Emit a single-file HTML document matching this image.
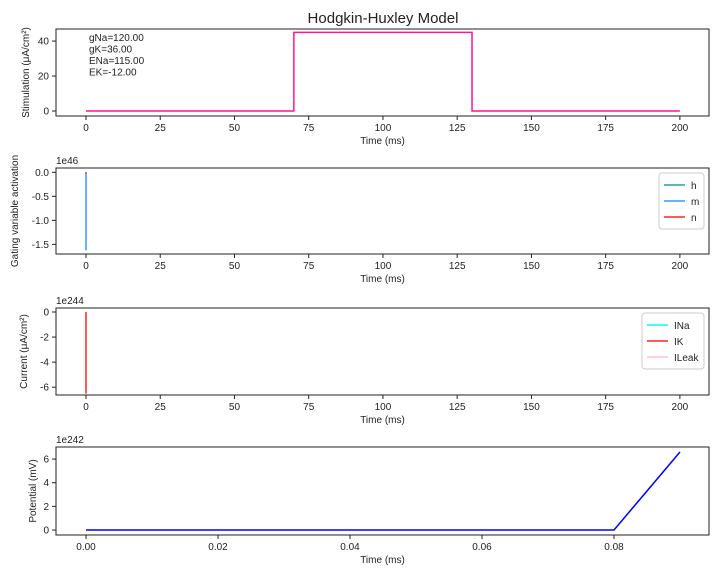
<!DOCTYPE html>
<html><head><meta charset="utf-8"><style>
body{margin:0;background:#fff;}
svg text{font-family:"Liberation Sans","DejaVu Sans",sans-serif;fill:#222;}
</style></head><body>
<svg id="fig" width="720" height="576" viewBox="0 0 720 576" xmlns="http://www.w3.org/2000/svg">
<text x="383" y="23" font-size="15" text-anchor="middle">Hodgkin-Huxley Model</text>
</svg>
<script>
const stimTimes=[0,70,70,130,130,200];
const stimValues=[0,0,45,45,0,0];
const gateT=[0,0];
const gateH=[0,-0.01];
const gateM=[0,-1.62];
const gateN=[0,-0.03];
const curT=[0,0];
const curNa=[0,-0.02];
const curK=[0,-6.5];
const curLeak=[0,-0.01];
const vT=[0,0.08,0.09];
const vV=[0,0,6.6];
const xTicksMain=[0,25,50,75,100,125,150,175,200];
const xTicksV=[0,0.02,0.04,0.06,0.08];
const yTicks1=[0,20,40];
const yTicks2=[0,-0.5,-1.0,-1.5];
const yTicks3=[0,-2,-4,-6];
const yTicks4=[0,2,4,6];

const svg=document.getElementById('fig');
const NS='http://www.w3.org/2000/svg';
function mk(tag,attrs,parent){const e=document.createElementNS(NS,tag);for(const k in attrs)e.setAttribute(k,attrs[k]);(parent||svg).appendChild(e);return e;}
function panel(name,top,bot,xmin,xmax,ymin,ymax,xt,yt,xfmt,yfmt,xlabel,ylabel,expo,ylx){
  const L=56,R=709;
  const g=mk('g',{});
  
  
  const sx=v=>L+(v-xmin)/(xmax-xmin)*(R-L);
  const sy=v=>bot-(v-ymin)/(ymax-ymin)*(bot-top);
  xt.forEach(v=>{const x=sx(v);mk('line',{x1:x,x2:x,y1:bot,y2:bot+4,stroke:'#222'},g);
    const t=mk('text',{x:x,y:bot+15,'font-size':10,'text-anchor':'middle'},g);t.textContent=xfmt(v);
    });
  yt.forEach(v=>{const y=sy(v);mk('line',{x1:L-4,x2:L,y1:y,y2:y,stroke:'#222'},g);
    const t=mk('text',{x:L-7,y:y+3.5,'font-size':10,'text-anchor':'end'},g);t.textContent=yfmt(v);
    });
  const xl=mk('text',{x:(L+R)/2,y:bot+28,'font-size':10,'text-anchor':'middle'},g);xl.textContent=xlabel;
  
  const cy=(top+bot)/2;
  const yl=mk('text',{x:0,y:0,'font-size':10,'text-anchor':'middle',transform:`translate(${ylx},${cy}) rotate(-90)`},g);yl.textContent=ylabel;
  
  if(expo){const e=mk('text',{x:L,y:top-4,'font-size':10},g);e.textContent=expo;
    }
  return {g,sx,sy,frame:()=>{const f=mk('rect',{x:L,y:top,width:R-L,height:bot-top,fill:'none',stroke:'#222','stroke-width':1},g);
    }};
}
function line(p,xs,ys,color,name,w){
  const d=xs.map((x,i)=>(i?'L':'M')+p.sx(x).toFixed(2)+','+p.sy(ys[i]).toFixed(2)).join('');
  const e=mk('path',{d:d,fill:'none',stroke:color,'stroke-width':w||1.5},p.g);
  
}
function legend(p,x,y,w,items){
  const box=mk('rect',{x:x,y:y,width:w,height:items.length*16+8,rx:3,fill:'#fff',stroke:'#ccc'},p.g);
  
  items.forEach((it,i)=>{const yy=y+12+i*16;
    mk('line',{x1:x+5,x2:x+26,y1:yy,y2:yy,stroke:it[1],'stroke-width':1.5},p.g);
    const t=mk('text',{x:x+32,y:yy+4,'font-size':10},p.g);t.textContent=it[0];
    });
}
const f0=v=>String(v), f1=v=>v.toFixed(1), f2=v=>v.toFixed(2);
const p1=panel('stimulation-panel',29,116,-10.1,209.8,-2.86,46.9,xTicksMain,yTicks1,f0,f0,'Time (ms)','Stimulation (μA/cm²)',null,29);
line(p1,stimTimes,stimValues,'#ff1493','stimulation-line');
['gNa=120.00','gK=36.00','ENa=115.00','EK=-12.00'].forEach((s,i)=>{const t=mk('text',{x:89,y:41+i*11.5,'font-size':10},p1.g);t.textContent=s;
  });
p1.frame();
const p2=panel('gating-panel',168,254,-10.1,209.8,-1.70,0.09,xTicksMain,yTicks2,f0,f1,'Time (ms)','Gating variable activation','1e46',18);
line(p2,gateT,gateH,'#20a0a0','h-line');line(p2,gateT,gateM,'#3399ff','m-line');line(p2,gateT,gateN,'#ff2020','n-line');
legend(p2,659,173,45,[['h','#2a9d9d'],['m','#3399ff'],['n','#ff2020']]);p2.frame();
const p3=panel('current-panel',308,395,-10.1,209.8,-6.62,0.32,xTicksMain,yTicks3,f0,f0,'Time (ms)','Current (μA/cm²)','1e244',27);
line(p3,curT,curNa,'cyan','ina-line');line(p3,curT,curK,'#ff2020','ik-line');line(p3,curT,curLeak,'pink','ileak-line');
legend(p3,642,313,62,[['INa','cyan'],['IK','#ff2020'],['ILeak','pink']]);p3.frame();
const p4=panel('potential-panel',447,535,-0.00455,0.0944,-0.42,7.02,xTicksV,yTicks4,f2,f0,'Time (ms)','Potential (mV)','1e242',36);
line(p4,vT,vV,'blue','potential-line');p4.frame();
</script>
</body></html>
